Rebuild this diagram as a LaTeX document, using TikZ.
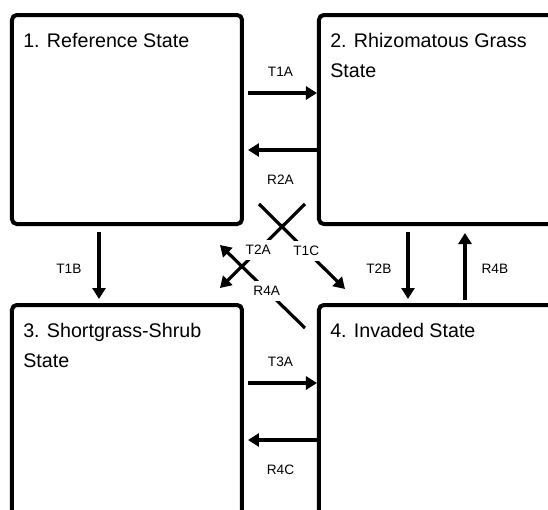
\documentclass[tikz,border=0pt]{standalone}
\usepackage{fontspec}
\setmainfont{Liberation Sans}
\usetikzlibrary{positioning,arrows.meta}

\begin{document}
\begin{tikzpicture}[
  every node/.style={font=\fontsize{9.7}{11.6}\selectfont},
  statebox/.style={draw, line width=0.1cm, rounded corners=0.12cm,
    minimum width=5.75cm, minimum height=5.225cm, inner sep=0pt},
  statename/.style={anchor=north west, inner sep=0pt, align=left,
    xshift=0.325cm, yshift=-0.5cm, font=\fontsize{14}{21}\selectfont},
  trans/.style={-{Triangle[length=0.275cm, width=0.325cm]}, line width=0.08cm},
  tlabel/.style={inner sep=0pt},
  onpath/.style={fill=white, inner sep=0.13cm},
  node distance=1.925cm and 1.825cm,
]

% Frame
\useasboundingbox (-7.0125,-6.1375) rectangle (6.6875,6.6125);
\clip (-7.0125,-6.1375) rectangle (6.6875,6.6125);

% States
\node[statebox, label={[statename]north west:1. Reference State}]
  (ref) at (-3.8375, 3.625) {};
\node[statebox, minimum width=7cm, right=of ref,
  label={[statename]north west:{2. Rhizomatous Grass\\State}}] (rhiz) {};
\node[statebox, minimum height=5.8cm, below=of ref,
  label={[statename]north west:{3. Shortgrass-Shrub\\State}}] (short) {};
\node[statebox, minimum width=7cm, minimum height=5.8cm, right=of short,
  label={[statename]north west:4. Invaded State}] (inv) {};

% Horizontal transitions
\draw[trans, shorten <=0.1cm] ([yshift=-2cm]ref.north east) -- ([yshift=-2cm]rhiz.north west)
  node[tlabel, midway, above=0.375cm] {T1A};
\draw[trans, shorten >=0.1cm] ([yshift=-3.425cm]rhiz.north west) -- ([yshift=-3.425cm]ref.north east)
  node[tlabel, midway, below=0.575cm] {R2A};
\draw[trans, shorten <=0.1cm] ([yshift=-2cm]short.north east) -- ([yshift=-2cm]inv.north west)
  node[tlabel, midway, above=0.375cm] {T3A};
\draw[trans, shorten >=0.1cm] ([yshift=-3.425cm]inv.north west) -- ([yshift=-3.425cm]short.north east)
  node[tlabel, midway, below=0.575cm] {R4C};

% Vertical transitions
\draw[trans, shorten <=0.15cm, shorten >=0.1cm] ([xshift=2.225cm]ref.south west) -- ([xshift=2.225cm]short.north west)
  node[tlabel, pos=0.55, left=0.4cm] {T1B};
\draw[trans, shorten <=0.15cm, shorten >=0.1cm] ([xshift=2.275cm]rhiz.south west) -- ([xshift=2.275cm]inv.north west)
  node[tlabel, pos=0.55, left=0.375cm] {T2B};
\draw[trans, shorten <=0.075cm, shorten >=0.175cm] ([xshift=3.7cm]inv.north west) -- ([xshift=3.7cm]rhiz.south west)
  node[tlabel, pos=0.45, right=0.375cm] {R4B};

% Diagonal transitions
\draw[trans] ([shift={(0.375,0.55)}]ref.south east) -- ([shift={(0.7,0.35)}]inv.north west)
  node[onpath, pos=0.55] {T1C};
\draw[trans] ([shift={(-0.3,0.55)}]rhiz.south west) -- ([shift={(-0.6,0.375)}]short.north east)
  node[onpath, pos=0.55] {T2A};
\draw[trans] ([shift={(-0.3,-0.625)}]inv.north west) -- ([shift={(-0.6,-0.475)}]ref.south east)
  node[onpath, pos=0.45] {R4A};

\end{tikzpicture}
\end{document}
